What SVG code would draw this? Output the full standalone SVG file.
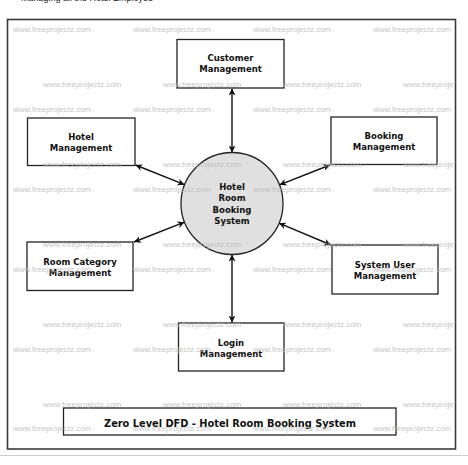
<svg xmlns="http://www.w3.org/2000/svg" width="468" height="465" viewBox="0 0 468 465">
<style>
.box{fill:#fff;stroke:#222;stroke-width:1.3}
.lbl{font-family:"DejaVu Sans",sans-serif;font-weight:bold;font-size:8.5px;fill:#111;text-anchor:middle}
.wm{font-family:"Liberation Sans",Arial,sans-serif;font-size:8px;fill:#bdbdbd}
.con{stroke:#111;stroke-width:1.4;fill:none;marker-start:url(#ah);marker-end:url(#ah)}
</style>
<defs>
<marker id="ah" viewBox="0 0 10 10" refX="10" refY="5" markerWidth="7" markerHeight="7" markerUnits="userSpaceOnUse" orient="auto-start-reverse">
<path d="M0,0 L10,5 L0,10 L3,5 z" fill="#111"/>
</marker>
<clipPath id="fr"><rect x="8" y="20" width="447" height="429"/></clipPath>
</defs>
<rect width="468" height="465" fill="#fff"/>
<text x="21" y="1" font-family="Liberation Sans,Arial,sans-serif" font-size="9" fill="#222">Managing all the Hotel Employee</text>
<rect x="7.5" y="19.5" width="448" height="429.5" fill="#fff" stroke="#3a3a3a" stroke-width="1.6"/>
<line x1="0" y1="455.5" x2="468" y2="455.5" stroke="#ccc" stroke-width="1"/>

<g id="connectors">
<line class="con" x1="232" y1="88.5" x2="232" y2="152.5"/>
<line class="con" x1="135.5" y1="165" x2="184.5" y2="184.7"/>
<line class="con" x1="330" y1="165" x2="279.5" y2="184.8"/>
<line class="con" x1="134" y1="242" x2="184.5" y2="222.2"/>
<line class="con" x1="331" y1="245" x2="279" y2="223.2"/>
<line class="con" x1="232" y1="254.5" x2="232" y2="322.5"/>
</g>

<g id="center">
<circle cx="232" cy="203.5" r="51" fill="#e0e0e0" stroke="#222" stroke-width="1.3"/>
<text class="lbl" x="232" y="189.5">Hotel</text>
<text class="lbl" x="232" y="201">Room</text>
<text class="lbl" x="232" y="212.5">Booking</text>
<text class="lbl" x="232" y="224">System</text>
</g>
<g id="customer">
<rect class="box" x="177" y="39.5" width="107" height="48.5"/>
<text class="lbl" x="230.5" y="61">Customer</text>
<text class="lbl" x="230.5" y="72">Management</text>
</g>
<g id="hotel">
<rect class="box" x="27.5" y="118" width="107.5" height="47.5"/>
<text class="lbl" x="81" y="140">Hotel</text>
<text class="lbl" x="81" y="151">Management</text>
</g>
<g id="booking">
<rect class="box" x="331" y="117" width="106" height="47.5"/>
<text class="lbl" x="384" y="139">Booking</text>
<text class="lbl" x="384" y="150">Management</text>
</g>
<g id="roomcategory">
<rect class="box" x="27" y="242" width="106" height="48.5"/>
<text class="lbl" x="80" y="265">Room Category</text>
<text class="lbl" x="80" y="276">Management</text>
</g>
<g id="systemuser">
<rect class="box" x="332" y="245" width="106" height="49"/>
<text class="lbl" x="385" y="268">System User</text>
<text class="lbl" x="385" y="279">Management</text>
</g>
<g id="login">
<rect class="box" x="178.5" y="323" width="105.5" height="48"/>
<text class="lbl" x="231" y="346">Login</text>
<text class="lbl" x="231" y="357">Management</text>
</g>
<g id="title">
<rect class="box" x="63.5" y="408" width="332.5" height="27"/>
<text class="lbl" x="230" y="426.5" style="font-size:9.8px">Zero Level DFD - Hotel Room Booking System</text>
</g>

<g id="watermarks" clip-path="url(#fr)" opacity="0.85">
<text class="wm" x="13" y="32">www.freeprojectz.com</text>
<text class="wm" x="133" y="32">www.freeprojectz.com</text>
<text class="wm" x="253" y="32">www.freeprojectz.com</text>
<text class="wm" x="373" y="32">www.freeprojectz.com</text>
<text class="wm" x="43" y="87">www.freeprojectz.com</text>
<text class="wm" x="163" y="87">www.freeprojectz.com</text>
<text class="wm" x="283" y="87">www.freeprojectz.com</text>
<text class="wm" x="403" y="87">www.freeprojectz.com</text>
<text class="wm" x="13" y="112">www.freeprojectz.com</text>
<text class="wm" x="133" y="112">www.freeprojectz.com</text>
<text class="wm" x="253" y="112">www.freeprojectz.com</text>
<text class="wm" x="373" y="112">www.freeprojectz.com</text>
<text class="wm" x="43" y="167">www.freeprojectz.com</text>
<text class="wm" x="163" y="167">www.freeprojectz.com</text>
<text class="wm" x="283" y="167">www.freeprojectz.com</text>
<text class="wm" x="403" y="167">www.freeprojectz.com</text>
<text class="wm" x="13" y="192">www.freeprojectz.com</text>
<text class="wm" x="133" y="192">www.freeprojectz.com</text>
<text class="wm" x="253" y="192">www.freeprojectz.com</text>
<text class="wm" x="373" y="192">www.freeprojectz.com</text>
<text class="wm" x="43" y="247">www.freeprojectz.com</text>
<text class="wm" x="163" y="247">www.freeprojectz.com</text>
<text class="wm" x="283" y="247">www.freeprojectz.com</text>
<text class="wm" x="403" y="247">www.freeprojectz.com</text>
<text class="wm" x="13" y="272">www.freeprojectz.com</text>
<text class="wm" x="133" y="272">www.freeprojectz.com</text>
<text class="wm" x="253" y="272">www.freeprojectz.com</text>
<text class="wm" x="373" y="272">www.freeprojectz.com</text>
<text class="wm" x="43" y="327">www.freeprojectz.com</text>
<text class="wm" x="163" y="327">www.freeprojectz.com</text>
<text class="wm" x="283" y="327">www.freeprojectz.com</text>
<text class="wm" x="403" y="327">www.freeprojectz.com</text>
<text class="wm" x="13" y="352">www.freeprojectz.com</text>
<text class="wm" x="133" y="352">www.freeprojectz.com</text>
<text class="wm" x="253" y="352">www.freeprojectz.com</text>
<text class="wm" x="373" y="352">www.freeprojectz.com</text>
<text class="wm" x="43" y="407">www.freeprojectz.com</text>
<text class="wm" x="163" y="407">www.freeprojectz.com</text>
<text class="wm" x="283" y="407">www.freeprojectz.com</text>
<text class="wm" x="403" y="407">www.freeprojectz.com</text>
<text class="wm" x="13" y="431">www.freeprojectz.com</text>
<text class="wm" x="133" y="431">www.freeprojectz.com</text>
<text class="wm" x="253" y="431">www.freeprojectz.com</text>
<text class="wm" x="373" y="431">www.freeprojectz.com</text>
</g>
</svg>
